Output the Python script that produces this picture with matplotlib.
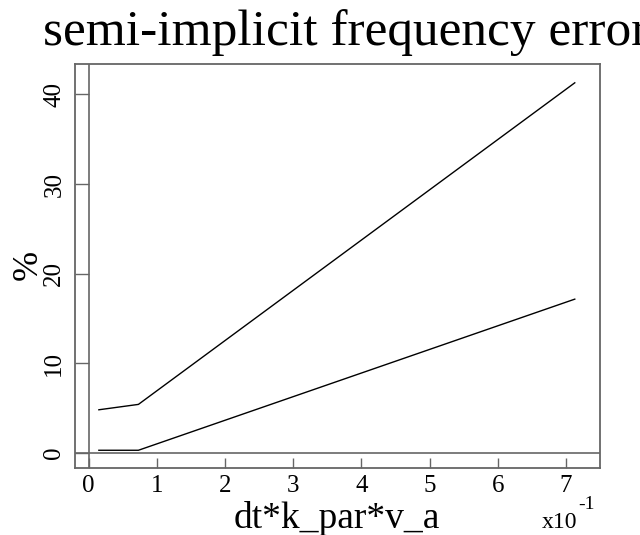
import matplotlib
matplotlib.use("Agg")
import matplotlib.pyplot as plt

x_vals = [0.15, 0.73, 7.13]          # dt*k_par*v_a in units of 1e-1
upper_err = [4.8, 5.4, 41.3]
lower_err = [0.28, 0.28, 17.15]
x_ticks = [0, 1, 2, 3, 4, 5, 6, 7]
y_ticks = [0, 10, 20, 30, 40]

plt.rcParams['font.family'] = ['Liberation Serif', 'DejaVu Serif']

W, H = 640, 535
fig = plt.figure(figsize=(6.4, 5.35), dpi=100)
l, r, t, b = 75, 600, 64, 468
ax = fig.add_axes([l / W, 1 - b / H, (r - l) / W, (b - t) / H])

ax.plot(x_vals, upper_err, color='black', lw=1.0)
ax.plot(x_vals, lower_err, color='black', lw=1.0)
ax.axhline(0, color='#666666', lw=1.2)
ax.axvline(0, color='#666666', lw=1.2)

ax.set_xlim(-0.2, 7.5)
ax.set_ylim(-1.7, 43.4)
for s in ax.spines.values():
    s.set_color('#666666')
    s.set_linewidth(1.3)

ax.set_xticks(x_ticks)
ax.set_yticks(y_ticks)
ax.tick_params(axis='x', direction='in', length=7, width=1, color='#666666',
               labelsize=18, pad=5)
ax.tick_params(axis='y', direction='in', length=10, width=1, color='#666666',
               labelsize=18, pad=7)
for lab in ax.get_yticklabels():
    lab.set_rotation(90)
    lab.set_va('center')

fig.text(337 / W, 1 - 528 / H, 'dt*k_par*v_a', ha='center', va='baseline', fontsize=27)
fig.text(542 / W, 1 - 528 / H, 'x10', ha='left', va='baseline', fontsize=17)
fig.text(578 / W, 1 - 509 / H, '-1', ha='left', va='baseline', fontsize=14)
fig.text(28 / W, 1 - 265 / H, '%', ha='center', va='center', fontsize=26, rotation=90)
fig.text(43 / W, 1 - 45 / H, 'semi-implicit frequency error', ha='left', va='baseline', fontsize=37)

fig.savefig('out.png', dpi=100)
